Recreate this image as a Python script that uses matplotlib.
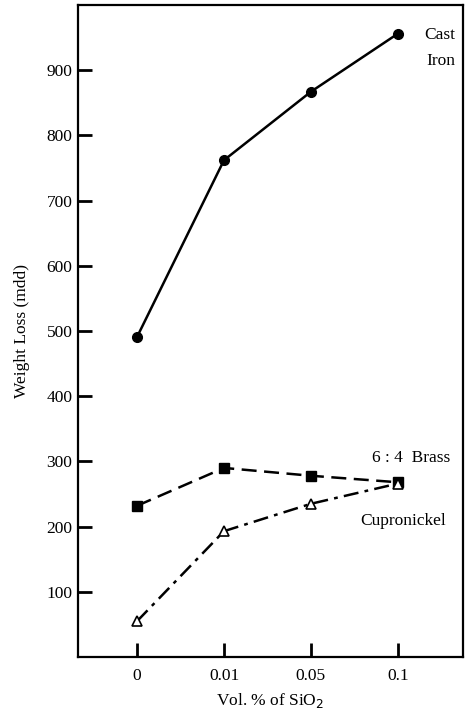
import matplotlib
matplotlib.use("Agg")
import matplotlib.pyplot as plt
import numpy as np

# data
categories = ["0", "0.01", "0.05", "0.1"]
cast_iron = [491, 762, 867, 956]
brass = [232, 290, 278, 268]
cupronickel = [55, 193, 235, 266]

plt.rcParams['font.family'] = ['Liberation Serif', 'DejaVu Serif']

fig = plt.figure(figsize=(4.72, 7.13), dpi=100)
ax = fig.add_axes([78 / 472, 1 - 657 / 713, (463 - 78) / 472, (657 - 5) / 713])

x = np.arange(len(categories))

ax.plot(x, cast_iron, color="black", lw=1.8, marker="o", ms=7)
ax.plot(x, brass, color="black", lw=1.8, ls=(0, (6, 3)), marker="s", ms=6.5)
ax.plot(x, cupronickel, color="black", lw=1.8, ls=(0, (6, 2.5, 1.5, 2.5)),
        marker="^", ms=6.5, mfc="white", mew=1.2)

fs = 12.5
ax.text(x[-1] + 0.66, cast_iron[-1] - 2, "Cast", ha="right", va="center", fontsize=fs)
ax.text(x[-1] + 0.66, cast_iron[-1] - 42, "Iron", ha="right", va="center", fontsize=fs)
ax.text(x[-1] + 0.6, brass[-1] + 37, "6 : 4  Brass", ha="right", va="center", fontsize=fs)
ax.text(x[-1] + 0.56, cupronickel[-1] - 57, "Cupronickel", ha="right", va="center", fontsize=fs)

ax.set_xlim(-0.68, 3.75)
ax.set_ylim(0, 1000)
ax.set_xticks(x)
ax.set_xticklabels(categories)
ax.set_yticks(np.arange(100, 1000, 100))

ax.tick_params(direction="in", length=10, width=2, labelsize=fs, pad=8)
ax.tick_params(axis="y", pad=4)
for s in ax.spines.values():
    s.set_linewidth(1.6)

ax.set_ylabel("Weight Loss (mdd)", fontsize=fs, labelpad=12)
ax.set_xlabel("Vol. % of SiO$_2$", fontsize=fs, labelpad=5)

fig.savefig("out.png", dpi=100)
